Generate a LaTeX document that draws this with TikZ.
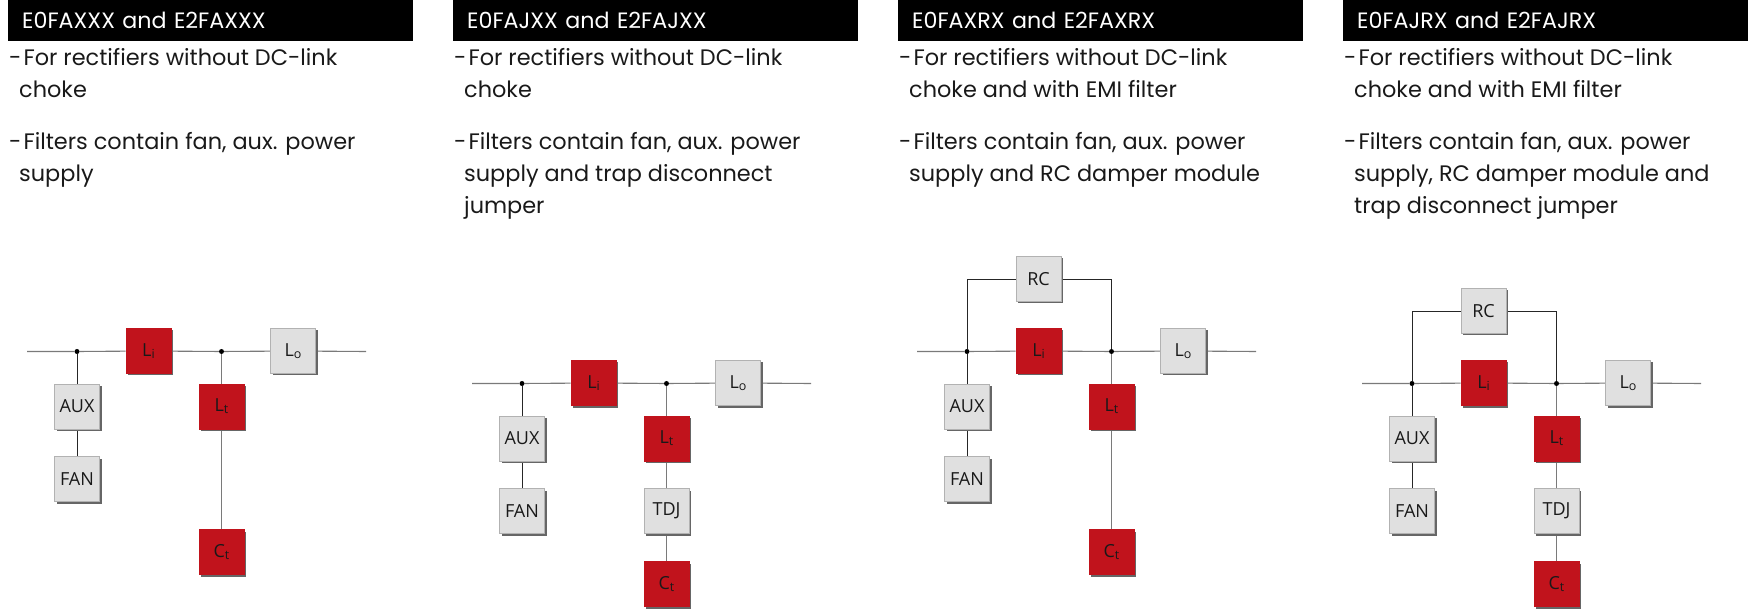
\documentclass[tikz,border=0pt]{standalone}
\usepackage{fontspec}
\setmainfont{Poppins}
\newfontfamily\boxfont{Open Sans}
\usetikzlibrary{shadows,backgrounds}
\definecolor{filtred}{HTML}{C1131C}
\definecolor{filtgray}{HTML}{E0E0E0}
\definecolor{wiregray}{HTML}{7A7A7A}
\newcommand{\subi}[1]{\raisebox{-2pt}{\fontsize{12.5}{12.5}\selectfont #1}}
\newcommand{\dashi}{-\kern-4pt\ }
\tikzset{
  basebox/.style={minimum size=45pt,inner sep=0pt,line width=0.7pt,
    font=\boxfont\fontsize{18}{20}\selectfont,
    drop shadow={shadow xshift=2pt,shadow yshift=-2pt,fill=black!60,opacity=1}},
  graybox/.style={basebox,draw=black!30,fill=filtgray,text=black!90},
  redbox/.style={basebox,draw=filtred,fill=filtred,text=black!90},
  wire/.style={wiregray,line width=1.1pt},
  blackwire/.style={black!85,line width=0.9pt},
  junction/.style={circle,fill=black,inner sep=0pt,minimum size=5pt},
  headbar/.style={fill=black,text=white,anchor=north west,minimum width=405pt,minimum height=41pt,
    inner sep=0pt,inner xsep=14pt,text width=377pt,font=\fontsize{22.2}{26}\selectfont},
  bodytxt/.style={anchor=north west,inner sep=0pt,align=left,text=black!90,
    font=\fontsize{22.4}{32}\selectfont},
}
\begin{document}
\begin{tikzpicture}[x=1pt,y=-1pt]
\useasboundingbox (0,0) rectangle (1748,609);
% header bars
\node [headbar] (heada) at (8,0) {E0FAXXX and E2FAXXX};
\node [headbar] (headb) at (453,0) {E0FAJXX and E2FAJXX};
\node [headbar] (headc) at (898,0) {E0FAXRX and E2FAXRX};
\node [headbar] (headd) at (1343,0) {E0FAJRX and E2FAJRX};
% descriptions
\node [bodytxt] (usea) at (9,48) {\dashi For rectifiers without DC-link\\\hspace*{10pt}choke};
\node [bodytxt] (usec) at (454,48) {\dashi For rectifiers without DC-link\\\hspace*{10pt}choke};
\node [bodytxt] (useb) at (899,48) {\dashi For rectifiers without DC-link\\\hspace*{10pt}choke and with EMI filter};
\node [bodytxt] (used) at (1344,48) {\dashi For rectifiers without DC-link\\\hspace*{10pt}choke and with EMI filter};
\node [bodytxt] (conta) at (9,132) {\dashi Filters contain fan, aux. power\\\hspace*{10pt}supply};
\node [bodytxt] (contb) at (454,132) {\dashi Filters contain fan, aux. power\\\hspace*{10pt}supply and trap disconnect\\\hspace*{10pt}jumper};
\node [bodytxt] (contc) at (899,132) {\dashi Filters contain fan, aux. power\\\hspace*{10pt}supply and RC damper module};
\node [bodytxt] (contd) at (1344,132) {\dashi Filters contain fan, aux. power\\\hspace*{10pt}supply, RC damper module and\\\hspace*{10pt}trap disconnect jumper};
% the four circuits
\foreach \n/\dx/\dy in {a/0/0,b/445/32,c/890/0,d/1335/32} {
  \begin{scope}[shift={(\dx,\dy)}]
    \coordinate (in\n) at (27,351.5);
    \coordinate (out\n) at (366,351.5);
    \node [junction] (ja\n) at (77,351.5) {};
    \node [junction] (jb\n) at (221.5,351.5) {};
    \node [redbox] (li\n) at (148.5,351) {L\subi{i}};
    \node [graybox] (lo\n) at (293,351) {L\subi{o}};
    \node [graybox] (aux\n) at (77,406.5) {AUX};
    \node [graybox] (fan\n) at (77,479) {FAN};
    \node [redbox] (lt\n) at (221.5,406.5) {L\subi{t}};
    \node [redbox] (ct\n) at (221.5,552) {C\subi{t}};
  \end{scope}
  \begin{scope}[on background layer]
    \draw [wire] (in\n) -- (ja\n) -- (li\n) -- (jb\n) -- (lo\n) -- (out\n);
    \draw [blackwire] (ja\n) -- (aux\n) -- (fan\n);
    \draw [wire] (jb\n) -- (lt\n);
  \end{scope}
}
% direct link where there is no jumper
\begin{scope}[on background layer]
\foreach \n in {a,c} {
  \draw [wire] (lt\n) -- (ct\n);
}
\end{scope}
% trap disconnect jumper
\foreach \n/\dx in {b/445,d/1335} {
  \node [graybox] (tdj\n) at (221.5+\dx,511) {TDJ};
  \begin{scope}[on background layer]
    \draw [wire] (lt\n) -- (tdj\n) -- (ct\n);
  \end{scope}
}
% RC damper
\foreach \n/\dx/\dy in {c/890/0,d/1335/32} {
  \node [graybox] (rc\n) at (148.5+\dx,279+\dy) {RC};
  \begin{scope}[on background layer]
    \draw [blackwire] (ja\n) |- (rc\n);
    \draw [blackwire] (rc\n) -| (jb\n);
  \end{scope}
}
\end{tikzpicture}
\end{document}
